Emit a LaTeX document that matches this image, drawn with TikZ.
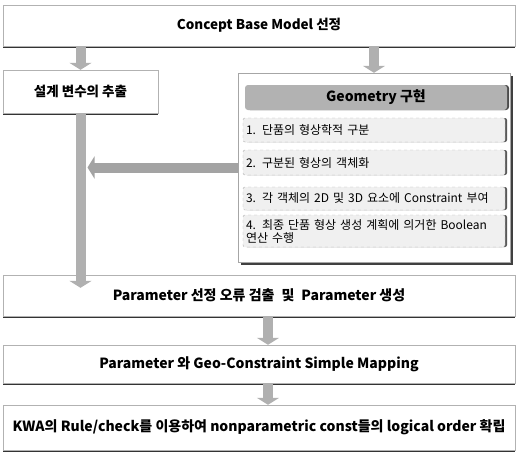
\documentclass[tikz,border=0pt]{standalone}
\usepackage{fontspec}
\setmainfont{Noto Sans CJK KR}
\usetikzlibrary{positioning,arrows.meta,shadows}
\tikzset{>=stealth}

\begin{document}
\begin{tikzpicture}[x=1pt,y=-1pt,
  box/.style={draw=gray!60, fill=white, font=\bfseries\fontsize{14}{16}\selectfont,
    minimum width=512pt, inner sep=0pt,
    drop shadow={shadow xshift=0pt,shadow yshift=-1.5pt,fill=black!80,opacity=1}},
  geobox/.style={draw=gray!70, fill=white, inner sep=0pt,
    drop shadow={shadow xshift=3pt,shadow yshift=-3pt,fill=black!75,opacity=1}},
  head/.style={fill=gray!60, rounded corners=3pt, inner sep=0pt,
    minimum width=262pt, minimum height=25pt, font=\bfseries\fontsize{14}{16}\selectfont,
    drop shadow={shadow xshift=2pt,shadow yshift=0pt,fill=black!70,opacity=1}},
  stepbox/.style={draw=gray!60, dashed, fill=gray!12, rounded corners=2pt,
    minimum width=262pt, text width=256pt, align=left, inner sep=3pt,
    font=\fontsize{12}{13}\selectfont,
    drop shadow={shadow xshift=2pt,shadow yshift=0pt,fill=black!65,opacity=1}},
  blk/.style={line width=10pt, draw=gray!62, -{Triangle[length=7pt,width=22pt]}}]
\useasboundingbox (0,0) rectangle (516,455);

% main flow boxes
\node[box, minimum height=41pt, font=\bfseries\fontsize{13.5}{16}\selectfont] (base) at (259,25.5) {Concept Base Model 선정};
\node[box, minimum width=155pt, minimum height=43pt, font=\bfseries\fontsize{13.5}{16}\selectfont] (design) at (80.5,91.5) {설계 변수의 추출};
\node[geobox, minimum width=272pt, minimum height=189pt] (geo) at (374,167.5) {};
\node[box, minimum height=41pt] (param) at (259,295.5) {Parameter 선정 오류 검출\enspace 및\enspace Parameter 생성};
\node[box, minimum height=38pt] (map) at (259,364) {Parameter 와 Geo-Constraint Simple Mapping};
\node[box, minimum height=45pt] (kwa) at (259,427.5) {KWA의 Rule/check를 이용하여 nonparametric const들의 logical order 확립};

% geometry steps
\node[head] (ghead) at (376,97.5) {Geometry 구현};
\node[stepbox, minimum height=24pt] (s1) at (374,130) {1. 단품의 형상학적 구분};
\node[stepbox, minimum height=25pt] (s2) at (374,162.5) {2. 구분된 형상의 객체화};
\node[stepbox, minimum height=23pt] (s3) at (374,198.5) {3. 각 객체의 2D 및 3D 요소에 Constraint 부여};
\node[stepbox, minimum height=32pt] (s4) at (374,231) {4. 최종 단품 형상 생성 계획에 의거한 Boolean\\연산 수행};

% arrows
\draw[blk] (base.south -| design) -- (design.north);
\draw[blk] (base.south -| geo) -- (geo.north);
\draw[blk] (design.south) -- ([yshift=-13pt]param.north -| design);
\coordinate (hit) at ([xshift=7pt]design.south |- geo.west);
\draw[blk, draw=gray!72] (geo.west) -- (hit);
\draw[blk] ([xshift=9pt]param.south) -- ([xshift=9pt]map.north);
\draw[blk] ([xshift=9pt]map.south) -- ([xshift=9pt]kwa.north);
\end{tikzpicture}
\end{document}
